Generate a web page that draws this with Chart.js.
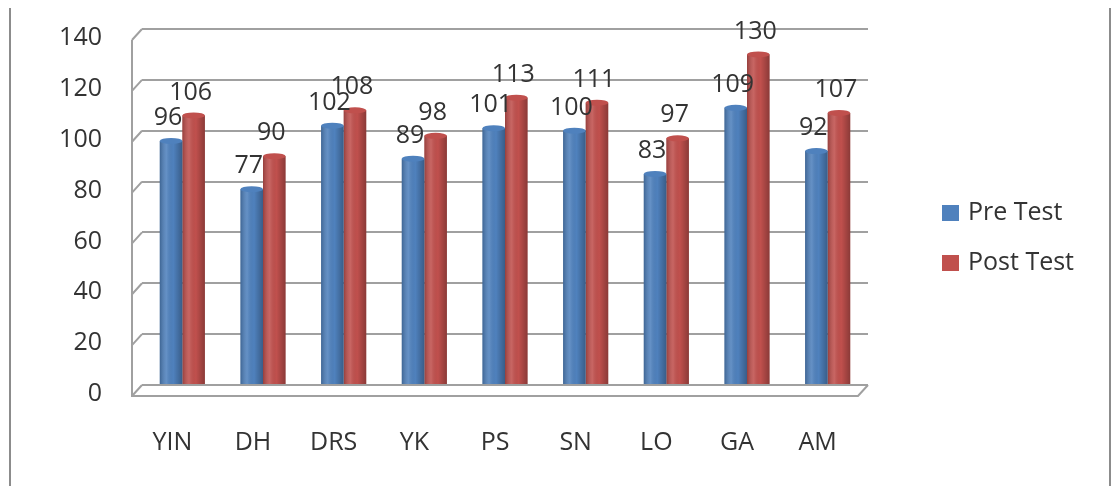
<!DOCTYPE html>
<html>
<head>
<meta charset="utf-8">
<script src="https://cdn.jsdelivr.net/npm/chart.js@4/dist/chart.umd.min.js"></script>
<style>
  html, body { margin: 0; padding: 0; background: #fff; }
  #wrap { position: relative; width: 1114px; height: 486px; }
  #wrap:before, #wrap:after {
    content: ''; position: absolute; top: 8px; bottom: 0; width: 2px; background: #8c8c8c;
  }
  #wrap:before { left: 9px; }
  #wrap:after { left: 1109px; }
</style>
</head>
<body>
<div id="wrap"><canvas id="scoreChart" width="1114" height="486"></canvas></div>
<script>
const categories = ['YIN', 'DH', 'DRS', 'YK', 'PS', 'SN', 'LO', 'GA', 'AM'];
const preTest  = [96, 77, 102, 89, 101, 100, 83, 109, 92];
const postTest = [106, 90, 108, 98, 113, 111, 97, 130, 107];
const yTicks   = [0, 20, 40, 60, 80, 100, 120, 140];

const FONT = { family: 'Open Sans', size: 25 };
const TEXT = '#333333';
const GRID = '#a0a0a0';

// side wall + floor edges, cylinder shading, value labels, legend on the right
const chartDecor = {
  id: 'chartDecor',
  beforeDatasetsDraw(chart) {
    const { ctx, chartArea: a, scales: { y } } = chart;
    const dx = 10, dy = 11;
    ctx.save();
    ctx.strokeStyle = GRID;
    ctx.lineWidth = 2;
    ctx.beginPath();
    yTicks.forEach(v => {
      const py = y.getPixelForValue(v);
      ctx.moveTo(a.left, py);
      ctx.lineTo(a.left - dx, py + dy);
    });
    ctx.moveTo(a.left - dx, a.top + dy);
    ctx.lineTo(a.left - dx, a.bottom + dy);
    ctx.lineTo(a.right - dx, a.bottom + dy);
    ctx.lineTo(a.right, a.bottom);
    ctx.stroke();
    ctx.restore();
  },
  afterDatasetsDraw(chart) {
    const { ctx } = chart;
    ctx.save();
    chart.data.datasets.forEach((ds, i) => {
      chart.getDatasetMeta(i).data.forEach(bar => {
        const l = bar.x - bar.width / 2;
        const g = ctx.createLinearGradient(l, 0, l + bar.width, 0);
        g.addColorStop(0, 'rgba(0,0,0,0.22)');
        g.addColorStop(0.3, 'rgba(255,255,255,0.12)');
        g.addColorStop(0.6, 'rgba(0,0,0,0)');
        g.addColorStop(1, 'rgba(0,0,0,0.28)');
        ctx.fillStyle = g;
        ctx.fillRect(l, bar.y, bar.width, bar.base - bar.y);
        ctx.beginPath();
        ctx.ellipse(bar.x, bar.y, bar.width / 2, 3, 0, 0, Math.PI * 2);
        ctx.fillStyle = ds.backgroundColor;
        ctx.fill();
      });
    });
    ctx.font = `${FONT.size}px "${FONT.family}"`;
    ctx.fillStyle = TEXT;
    ctx.textAlign = 'center';
    ctx.textBaseline = 'middle';
    chart.data.datasets.forEach((ds, i) => {
      chart.getDatasetMeta(i).data.forEach((bar, j) => {
        ctx.fillText(ds.data[j], bar.x - 3, bar.y - 23);
      });
    });
    ctx.restore();
  },
  afterDraw(chart) {
    const { ctx } = chart;
    ctx.save();
    ctx.font = `${FONT.size}px "${FONT.family}"`;
    ctx.textAlign = 'left';
    ctx.textBaseline = 'middle';
    chart.data.datasets.forEach((ds, i) => {
      const cy = 213 + i * 50;
      ctx.fillStyle = ds.backgroundColor;
      ctx.fillRect(942, cy - 8, 17, 16);
      ctx.fillStyle = TEXT;
      ctx.fillText(ds.label, 968, cy);
    });
    ctx.restore();
  },
};

new Chart(document.getElementById('scoreChart'), {
  type: 'bar',
  data: {
    labels: categories,
    datasets: [
      { label: 'Pre Test', data: preTest, backgroundColor: '#4f81bd', borderWidth: 0 },
      { label: 'Post Test', data: postTest, backgroundColor: '#c0504d', borderWidth: 0 },
    ],
  },
  options: {
    responsive: false,
    animation: false,
    layout: { padding: { top: 29, right: 246, bottom: 0, left: 0 } },
    datasets: { bar: { categoryPercentage: 0.56, barPercentage: 1 } },
    plugins: {
      legend: { display: false },
      tooltip: { enabled: false },
    },
    scales: {
      x: {
        grid: { display: false },
        border: { display: false },
        ticks: { font: FONT, color: TEXT, padding: 35, labelOffset: -10 },
        afterFit: axis => { axis.height = 101; axis.paddingLeft = 0; axis.paddingRight = 0; },
      },
      y: {
        min: 0, max: 140,
        afterBuildTicks: axis => { axis.ticks = yTicks.map(v => ({ value: v })); },
        grid: { color: GRID, lineWidth: 2, drawTicks: false },
        border: { display: false },
        ticks: { font: FONT, color: TEXT, padding: 40, labelOffset: 9 },
        afterFit: axis => { axis.width = 142; axis.paddingTop = 0; axis.paddingBottom = 0; },
      },
    },
  },
  plugins: [chartDecor],
});
</script>
</body>
</html>
